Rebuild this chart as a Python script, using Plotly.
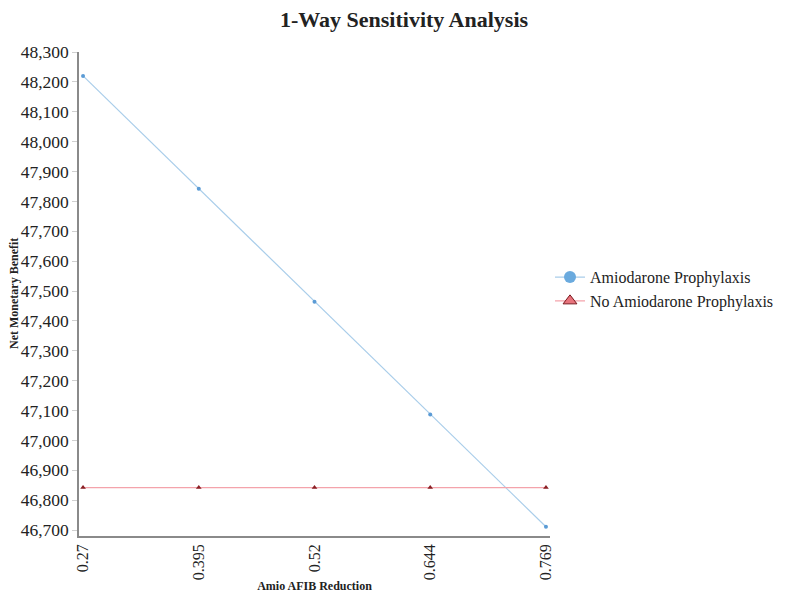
import plotly.graph_objects as go

# Values
reduction = ["0.27", "0.395", "0.52", "0.644", "0.769"]
amio_nmb = [48220, 47842, 47464, 47087, 46711]
no_amio_nmb = [46842, 46842, 46842, 46842, 46842]

serif = "Liberation Serif"

fig = go.Figure()

# plotted series (small markers, legend handled by proxy traces)
fig.add_trace(go.Scatter(
    x=reduction, y=amio_nmb, mode="lines+markers",
    line=dict(color="#a9cdea", width=1.2),
    marker=dict(color="#5b9bd5", size=4, symbol="circle"),
    showlegend=False, name="Amiodarone Prophylaxis"
))
fig.add_trace(go.Scatter(
    x=reduction, y=no_amio_nmb, mode="lines+markers",
    line=dict(color="#f4a3ab", width=1.2),
    marker=dict(color="#8b1f24", size=5, symbol="triangle-up"),
    showlegend=False, name="No Amiodarone Prophylaxis"
))

# legend proxies with larger symbols
fig.add_trace(go.Scatter(
    x=[None], y=[None], mode="lines+markers", name="Amiodarone Prophylaxis",
    line=dict(color="#a9cdea", width=1.2),
    marker=dict(color="#6aaade", size=12, symbol="circle")
))
fig.add_trace(go.Scatter(
    x=[None], y=[None], mode="lines+markers", name="No Amiodarone Prophylaxis",
    line=dict(color="#f4a3ab", width=1.2),
    marker=dict(color="#e8737c", size=12, symbol="triangle-up",
                line=dict(color="#7a1a1f", width=1))
))

# page body adds an 8px offset, so the figure is a little smaller
fig.update_layout(
    width=792, height=591,
    paper_bgcolor="white", plot_bgcolor="white",
    margin=dict(l=71, r=250, t=44, b=63),
    font=dict(family=serif, color="#222222", size=16),
    title=dict(text="<b>1-Way Sensitivity Analysis</b>", x=0.5, xanchor="center",
               y=1 - 11 / 591, yanchor="middle",
               font=dict(family=serif, size=22, color="#222222")),
    legend=dict(x=1.0, y=0.51, xanchor="left", yanchor="middle",
                font=dict(family=serif, size=16, color="#222222"),
                bgcolor="rgba(0,0,0,0)", itemsizing="trace", tracegroupgap=0),
)

# y axis title as an annotation so it sits clear of the tick labels
fig.add_annotation(
    text="<b>Net Monetary Benefit</b>", textangle=-90,
    xref="paper", yref="paper", x=(6 - 71) / 471, y=0.5,
    xanchor="center", yanchor="middle", showarrow=False,
    font=dict(family=serif, size=12, color="#222222"),
)

fig.update_xaxes(
    type="category", range=[-0.035, 4.035],
    showgrid=False, zeroline=False, automargin=False,
    showline=True, linecolor="#8a8a8a", linewidth=1.5,
    ticks="", tickangle=-90,
    tickfont=dict(family=serif, size=16, color="#222222"),
    title=dict(text="<b>Amio AFIB Reduction</b>", standoff=2,
               font=dict(family=serif, size=12, color="#222222")),
)
fig.update_yaxes(
    range=[46680, 48300], tickvals=list(range(46700, 48301, 100)),
    tickformat=",d",
    showgrid=False, zeroline=False, automargin=False,
    showline=True, linecolor="#8a8a8a", linewidth=1.5,
    ticks="outside", ticklen=5, tickcolor="#d0d0d0",
    tickfont=dict(family=serif, size=17.5, color="#222222"),
)

fig.write_html("out.html")
